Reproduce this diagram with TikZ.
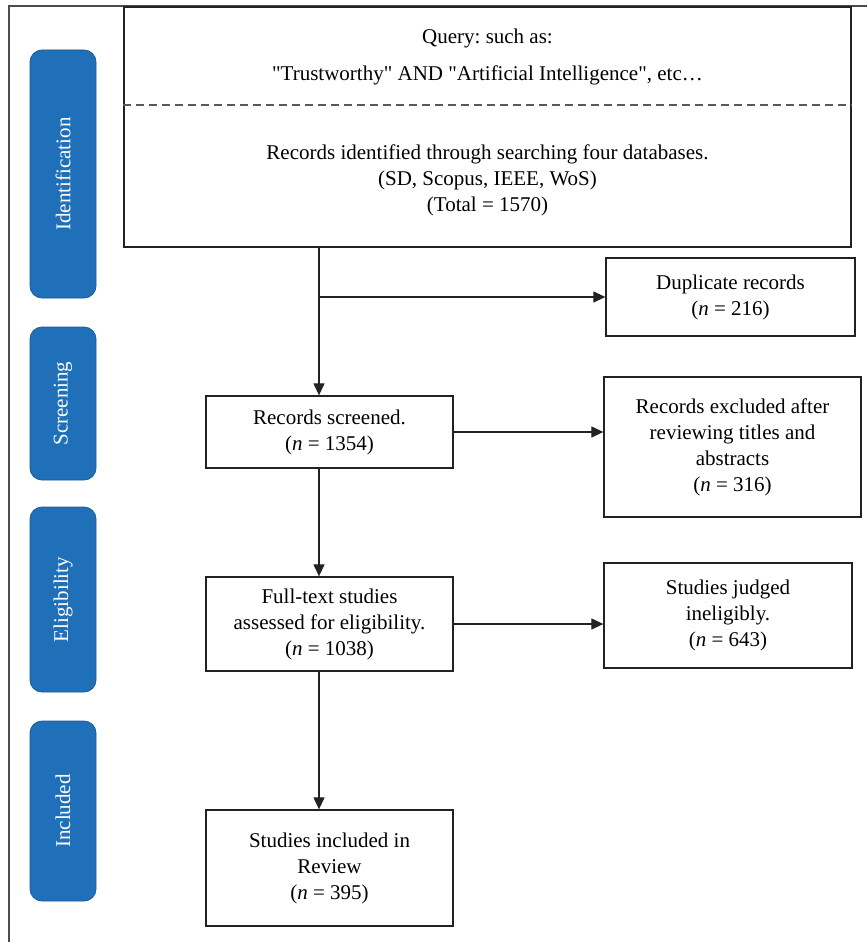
\documentclass[tikz,border=0pt]{standalone}
\usepackage{fontspec}
\setmainfont{Liberation Serif}
\usepackage{xcolor}
\usetikzlibrary{arrows.meta, positioning, calc}
\definecolor{stageblue}{HTML}{1F70B8}
\definecolor{stageedge}{HTML}{1A5C9A}
\definecolor{linegray}{HTML}{222222}
\frenchspacing

\begin{document}
\begin{tikzpicture}[
    x=1pt, y=-1pt,
    every node/.style={font=\fontsize{21}{26}\selectfont, align=center, inner sep=0pt},
    flowbox/.style={draw=linegray, line width=1.3pt, fill=white},
    stage/.style={draw=stageedge, line width=0.8pt, fill=stageblue, rounded corners=12pt, minimum width=66pt, text=white},
    flow/.style={-{Triangle[length=12pt, width=11pt]}, line width=1.2pt, draw=linegray}
]
\useasboundingbox (0,0) rectangle (867,942);

% Frame
\draw[line width=1.8pt, draw=black!70] (9,942) -- (9,6) -- (867,6);

% Stages
\node[stage, minimum height=248pt] (sIdent) at (63,174) {\rotatebox{90}{Identification}};
\node[stage, minimum height=153pt] (sScreen) at (63,403.5) {\rotatebox{90}{Screening}};
\node[stage, minimum height=185pt] (sElig) at (63,599.5) {\rotatebox{90}{Eligibility}};
\node[stage, minimum height=180pt] (sIncl) at (63,811) {\rotatebox{90}{Included}};

% Search box
\node[flowbox, minimum width=727pt, minimum height=240pt] (search) at (487.5,127) {};
\node (qhead) at (487.5,38) {Query: such as:};
\node (qterms) at (487.5,75) {\textquotedbl Trustworthy\textquotedbl{} AND \textquotedbl Artificial Intelligence\textquotedbl, etc\ldots};
\draw[dashed, dash pattern=on 8pt off 5pt, line width=1.2pt, draw=black!65] (search.west |- 0,105) -- (search.east |- 0,105);
\node (hits) at (487.5,180) {Records identified through searching four databases.\\(SD, Scopus, IEEE, WoS)\\(Total = 1570)};

% Main column
\node[flowbox, minimum width=247pt, minimum height=72pt] (screen) at (329.5,432) {Records screened.\\(\textit{n} = 1354)};
\node[flowbox, minimum width=247pt, minimum height=94pt] (full) at (329.5,624) {Full-text studies\\assessed for eligibility.\\(\textit{n} = 1038)};
\node[flowbox, minimum width=247pt, minimum height=116pt] (incl) at (329.5,868) {Studies included in\\Review\\(\textit{n} = 395)};

% Side boxes
\node[flowbox, minimum width=249pt, minimum height=78pt] (dup) at (730.5,297) {Duplicate records\\(\textit{n} = 216)};
\node[flowbox, minimum width=257pt, minimum height=140pt] (excl) at (732.5,447) {Records excluded after\\reviewing titles and\\abstracts\\(\textit{n} = 316)};
\node[flowbox, minimum width=248pt, minimum height=105pt] (inel) at (728,615.5) {Studies judged\\ineligibly.\\(\textit{n} = 643)};

% Connectors
\coordinate (trunk) at (319,0);
\draw[flow] (search.south -| trunk) -- (screen.north -| trunk);
\draw[flow] (dup.west -| trunk) -- (dup.west);
\draw[flow] (screen.east) -- (excl.west |- screen.east);
\draw[flow] (screen.south -| trunk) -- (full.north -| trunk);
\draw[flow] (full.east) -- (inel.west |- full.east);
\draw[flow] (full.south -| trunk) -- (incl.north -| trunk);

\end{tikzpicture}
\end{document}
